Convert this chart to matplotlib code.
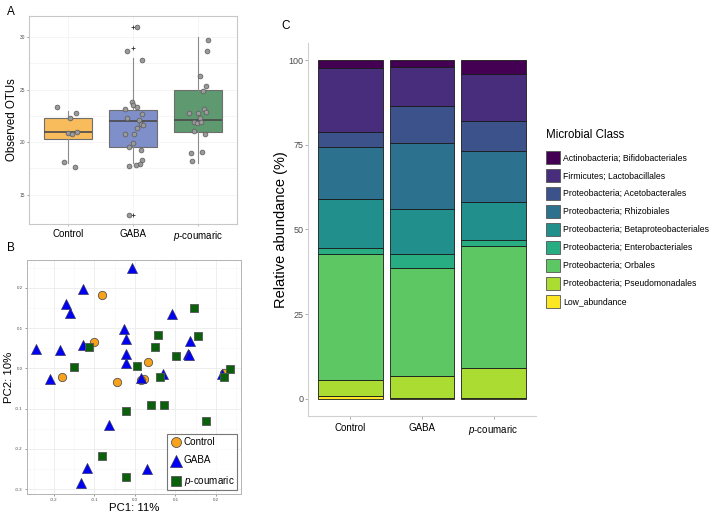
import matplotlib
matplotlib.use("Agg")
import matplotlib.pyplot as plt
from matplotlib.patches import Rectangle
from matplotlib.ticker import FormatStrFormatter

plt.rcParams['font.family'] = ['Liberation Sans', 'DejaVu Sans']
plt.rcParams['mathtext.fontset'] = 'custom'
plt.rcParams['mathtext.it'] = 'Liberation Sans:italic'
plt.rcParams['mathtext.rm'] = 'Liberation Sans'

groups = ['Control', 'GABA', r'$\it{p}$-coumaric']

# --- panel A: observed OTUs ---
box_q1 = [20.3, 19.5, 21.0]
box_med = [21.0, 22.0, 22.05]
box_q3 = [22.3, 23.05, 24.95]
whis_lo = [18.0, 18.0, 18.0]
whis_hi = [23.0, 28.0, 30.0]
outliers = [[], [31.0, 29.0, 13.05], []]

ctrl_x = [0.835, 1.128, 1.035, 0.995, 1.057, 1.143, 0.934, 1.108]
ctrl_y = [23.33, 22.73, 22.26, 20.83, 20.73, 20.95, 18.1, 17.65]
gaba_x = [2.066, 1.908, 2.143, 1.985, 1.877, 1.995, 2.056, 2.138, 1.908, 2.097, 2.128, 2.159,
          2.062, 1.872, 2.015, 1.995, 1.938, 2.123, 2.143, 2.108, 2.051, 1.938, 1.934]
gaba_y = [31.0, 28.67, 27.84, 23.78, 23.14, 23.55, 23.3, 22.67, 22.26, 22.1, 21.68, 21.62,
          21.37, 20.8, 20.73, 19.94, 19.56, 19.27, 18.3, 17.87, 17.8, 17.7, 13.05]
pcou_x = [3.158, 3.143, 3.035, 3.128, 3.082, 3.092, 3.118, 3.005, 2.862, 3.035, 2.934, 2.980,
          3.041, 2.943, 3.103, 2.892, 3.062, 2.913]
pcou_y = [29.7, 28.7, 26.3, 25.3, 24.86, 23.1, 22.9, 22.8, 22.8, 22.3, 21.87, 21.78,
          21.9, 21.08, 20.73, 18.98, 19.08, 18.2]

# --- panel B: PCoA ---
pc_ctrl_x = [-0.080, -0.100, -0.180, -0.043, 0.032, 0.022, 0.015, 0.220]
pc_ctrl_y = [0.181, 0.065, -0.022, -0.035, 0.016, -0.027, -0.029, -0.011]
pc_gaba_x = [-0.007, -0.127, -0.170, -0.160, 0.091, -0.026, -0.022, -0.244, -0.184, -0.127, -0.021, -0.021,
             0.137, 0.131, 0.134, -0.210, 0.015, 0.070, 0.214, -0.065, -0.119, 0.030, -0.134]
pc_gaba_y = [0.249, 0.196, 0.159, 0.137, 0.134, 0.098, 0.073, 0.049, 0.046, 0.058, 0.035, 0.012,
             0.068, 0.036, 0.033, -0.027, -0.023, -0.015, -0.013, -0.141, -0.247, -0.251, -0.286]
pc_pcou_x = [0.146, 0.058, 0.156, 0.049, -0.113, 0.102, -0.151, 0.006, 0.062, 0.235, 0.220, 0.039,
             0.073, -0.022, 0.176, -0.081, -0.021]
pc_pcou_y = [0.150, 0.083, 0.081, 0.054, 0.052, 0.031, 0.002, 0.005, -0.022, -0.002, -0.021, -0.090,
             -0.091, -0.105, -0.132, -0.219, -0.269]

# --- panel C: relative abundance ---
classes = ['Actinobacteria; Bifidobacteriales', 'Firmicutes; Lactobacillales',
           'Proteobacteria; Acetobacterales', 'Proteobacteria; Rhizobiales',
           'Proteobacteria; Betaproteobacteriales', 'Proteobacteria; Enterobacteriales',
           'Proteobacteria; Orbales', 'Proteobacteria; Pseudomonadales', 'Low_abundance']
class_colors = ['#440154', '#472D7B', '#3B528B', '#2C728E', '#21908C',
                '#27AD81', '#5DC863', '#AADC32', '#FDE725']
ctrl_abund = [2.3, 18.9, 4.6, 15.3, 14.3, 2.0, 37.2, 4.7, 0.7]
gaba_abund = [2.0, 11.5, 11.0, 19.6, 13.3, 4.1, 31.7, 6.5, 0.3]
pcou_abund = [4.0, 13.9, 9.1, 15.0, 11.2, 1.6, 36.2, 8.9, 0.1]

fig = plt.figure(figsize=(7.1, 5.15), dpi=100)
tick_col = '#4D4D4D'

# ================= A =================
axA = fig.add_axes([0.0408, 0.5650, 0.2930, 0.4039])
stats = []
for i in range(3):
    stats.append(dict(med=box_med[i], q1=box_q1[i], q3=box_q3[i],
                      whislo=whis_lo[i], whishi=whis_hi[i], fliers=outliers[i]))
bp = axA.bxp(stats, positions=[1, 2, 3], widths=0.75, patch_artist=True, showcaps=False,
             boxprops=dict(edgecolor='#6E6E6E', linewidth=0.8),
             medianprops=dict(color='#4A4A4A', linewidth=1.2),
             whiskerprops=dict(color='#8C8C8C', linewidth=0.8),
             flierprops=dict(marker='+', markersize=2.5, markeredgecolor='#333333', markeredgewidth=0.6),
             zorder=2)
for patch, c in zip(bp['boxes'], ['#F9BC5C', '#7F8FC9', '#5E9970']):
    patch.set_facecolor(c)
for xs, ys in [(ctrl_x, ctrl_y), (gaba_x, gaba_y), (pcou_x, pcou_y)]:
    axA.scatter(xs, ys, s=12, color='#9A9A9A', edgecolor='#5A5A5A', linewidth=0.5, zorder=3)
axA.set_xlim(0.4, 3.6)
axA.set_ylim(12.19, 32.0)
axA.set_yticks([15, 20, 25, 30])
axA.set_yticks([17.5, 22.5, 27.5], minor=True)
axA.set_xticks([1, 2, 3])
axA.set_xticklabels(groups, fontsize=7)
axA.tick_params(axis='y', labelsize=3.5, colors=tick_col, length=1.5, width=0.4, pad=1.5)
axA.tick_params(axis='y', which='minor', length=0)
axA.tick_params(axis='x', length=1.5, width=0.4, colors='#8C8C8C', labelcolor='black', pad=2)
axA.grid(True, which='both', color='#F2F2F2', linewidth=0.5, zorder=0)
axA.set_axisbelow(True)
for s in axA.spines.values():
    s.set_color('#C8C8C8')
    s.set_linewidth(0.8)
axA.set_ylabel('Observed OTUs', fontsize=8.3, labelpad=1)

# ================= B =================
axB = fig.add_axes([0.0376, 0.0402, 0.3014, 0.4549])
axB.scatter(pc_ctrl_x, pc_ctrl_y, s=36, marker='o', color='#F7A21B', edgecolor='#555555', linewidth=0.6,
            zorder=3, label='Control')
axB.scatter(pc_gaba_x, pc_gaba_y, s=52, marker='^', color='#0000F5', edgecolor='#333366', linewidth=0.5,
            zorder=3, label='GABA')
axB.scatter(pc_pcou_x, pc_pcou_y, s=34, marker='s', color='#0B610B', edgecolor='#555555', linewidth=0.6,
            zorder=3, label=r'$\it{p}$-coumaric')
axB.set_xlim(-0.267, 0.261)
axB.set_ylim(-0.313, 0.269)
axB.set_xticks([-0.2, -0.1, 0.0, 0.1, 0.2])
axB.set_yticks([-0.3, -0.2, -0.1, 0.0, 0.1, 0.2])
axB.set_xticks([-0.25, -0.15, -0.05, 0.05, 0.15, 0.25], minor=True)
axB.set_yticks([-0.25, -0.15, -0.05, 0.05, 0.15, 0.25], minor=True)
axB.xaxis.set_major_formatter(FormatStrFormatter('%.1f'))
axB.yaxis.set_major_formatter(FormatStrFormatter('%.1f'))
axB.tick_params(labelsize=3.2, colors=tick_col, length=1.5, width=0.4, pad=1.5)
axB.tick_params(which='minor', length=0)
axB.grid(True, which='major', color='#EBEBEB', linewidth=0.6, zorder=0)
axB.grid(True, which='minor', color='#F5F5F5', linewidth=0.4, zorder=0)
axB.set_axisbelow(True)
for s in axB.spines.values():
    s.set_color('#B3B3B3')
    s.set_linewidth(0.7)
axB.set_xlabel('PC1: 11%', fontsize=8.2, labelpad=0.5)
axB.set_ylabel('PC2: 10%', fontsize=8.2, labelpad=1)
legB = axB.legend(loc='lower right', bbox_to_anchor=(0.982, 0.018), fontsize=7.1, frameon=True,
                  fancybox=False, edgecolor='#555555', handletextpad=0.2, labelspacing=0.85,
                  borderpad=0.25, handlelength=1.2, borderaxespad=0, markerscale=1.2)
legB.get_frame().set_linewidth(0.8)

# ================= C =================
axC = fig.add_axes([0.4331, 0.1930, 0.3225, 0.7233])
xpos = [1, 2, 3]
stacks = [ctrl_abund, gaba_abund, pcou_abund]
for j in range(3):
    bottom = 0.0
    for k in range(len(classes) - 1, -1, -1):
        axC.bar(xpos[j], stacks[j][k], bottom=bottom, width=0.9, color=class_colors[k],
                edgecolor='#1A1A1A', linewidth=0.6, zorder=2)
        bottom += stacks[j][k]
axC.set_xlim(0.4, 3.6)
axC.set_ylim(-5, 105)
axC.set_yticks([0, 25, 50, 75, 100])
axC.set_xticks(xpos)
axC.set_xticklabels(groups, fontsize=7)
axC.tick_params(axis='y', labelsize=6.5, labelcolor=tick_col, colors='#8C8C8C', length=2, width=0.5, pad=1)
axC.tick_params(axis='x', labelsize=7, labelcolor='black', colors='#8C8C8C', length=2, width=0.5, pad=3)
for s in ['top', 'right']:
    axC.spines[s].set_visible(False)
for s in ['left', 'bottom']:
    axC.spines[s].set_color('#D0D0D0')
    axC.spines[s].set_linewidth(0.8)
axC.set_ylabel('Relative abundance (%)', fontsize=10.5, labelpad=0)

# legend for C: title as text, keys below
fig.text(0.769, 1 - 135 / 515, 'Microbial Class', fontsize=8.3, ha='left', va='center')
handles = [Rectangle((0, 0), 1, 1, facecolor=c, edgecolor='#555555', linewidth=0.6) for c in class_colors]
legC = fig.legend(handles, classes, loc='upper left', bbox_to_anchor=(0.769, 1 - 151 / 515), frameon=False,
                  fontsize=6.2, handlelength=1.6, handleheight=2.0, handletextpad=0.35,
                  labelspacing=0.54, borderaxespad=0, borderpad=0)

# panel letters
fig.text(0.010, 0.988, 'A', fontsize=8.5, va='top', ha='left')
fig.text(0.010, 0.530, 'B', fontsize=8.5, va='top', ha='left')
fig.text(0.396, 0.962, 'C', fontsize=8.5, va='top', ha='left')

fig.savefig('out.png', dpi=100)
